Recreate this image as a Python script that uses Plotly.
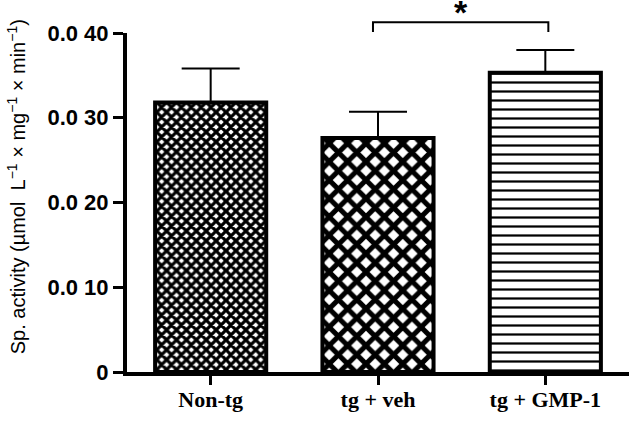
import plotly.graph_objects as go

# Data
groups = ["Non-tg", "tg + veh", "tg + GMP-1"]
activity = [0.0318, 0.0276, 0.0353]
sem = [0.0040, 0.0031, 0.0027]
ytick_vals = [0, 0.01, 0.02, 0.03, 0.04]
ytick_text = ["0", "0.0 10", "0.0 20", "0.0 30", "0.0 40"]

# fill pattern for each bar (checks approximated with "x")
pat_shape = ["x", "x", "-"]
pat_size = [7, 13, 9]
pat_solid = [0.7, 0.62, 0.25]

fig = go.Figure()
fig.add_trace(go.Bar(
    x=groups, y=activity,
    width=0.664,
    marker=dict(
        color="white",
        line=dict(color="black", width=4),
        pattern=dict(shape=pat_shape, size=pat_size, solidity=pat_solid,
                     fgcolor="black", bgcolor="white", fillmode="replace"),
    ),
    error_y=dict(type="data", array=sem, symmetric=False, arrayminus=[0, 0, 0],
                 color="black", thickness=2, width=29),
    showlegend=False,
))

# significance bracket between tg + veh and tg + GMP-1
n = len(groups)
x1 = (1 + 0.5) / n - 0.01
x2 = (2 + 0.5) / n + 0.006
fig.add_shape(type="path", xref="paper", yref="paper",
              path=f"M {x1} 1.003 L {x1} 1.032 L {x2} 1.032 L {x2} 1.003",
              line=dict(color="black", width=2))
fig.add_annotation(text="<b>*</b>", xref="paper", yref="paper",
                   x=(x1 + x2) / 2, y=1.032, yanchor="bottom", showarrow=False,
                   font=dict(family="Liberation Sans", size=34, color="black"),
                   yshift=-11)

# y-axis title
fig.add_annotation(
    text="Sp. activity (µmol  L<sup>−1</sup> × mg<sup>−1</sup> × min<sup>−1</sup>)",
    xref="paper", yref="paper", x=0, y=0.545, xanchor="center", yanchor="middle",
    xshift=-111, textangle=-90, showarrow=False,
    font=dict(family="Liberation Sans", size=20, color="black"),
)

fig.update_layout(
    width=632, height=422,
    margin=dict(l=127, r=3, t=33, b=50),
    plot_bgcolor="white", paper_bgcolor="white",
)
fig.update_xaxes(
    range=[-0.5, 2.5], showline=True, linecolor="black", linewidth=4,
    ticks="outside", ticklen=9, tickwidth=3, tickcolor="black",
    ticklabelstandoff=-4,
    showgrid=False, zeroline=False,
    tickfont=dict(family="Liberation Serif", size=22, color="black", weight="bold"),
)
fig.update_yaxes(
    range=[0, 0.04], tickvals=ytick_vals, ticktext=ytick_text,
    showline=True, linecolor="black", linewidth=4,
    ticks="outside", ticklen=10, tickwidth=3, tickcolor="black",
    showgrid=False, zeroline=False,
    tickfont=dict(family="Liberation Sans", size=22, color="black", weight="bold"),
)

fig.write_html("out.html", config={"displayModeBar": False},
               post_script="document.body.style.margin='0';")
